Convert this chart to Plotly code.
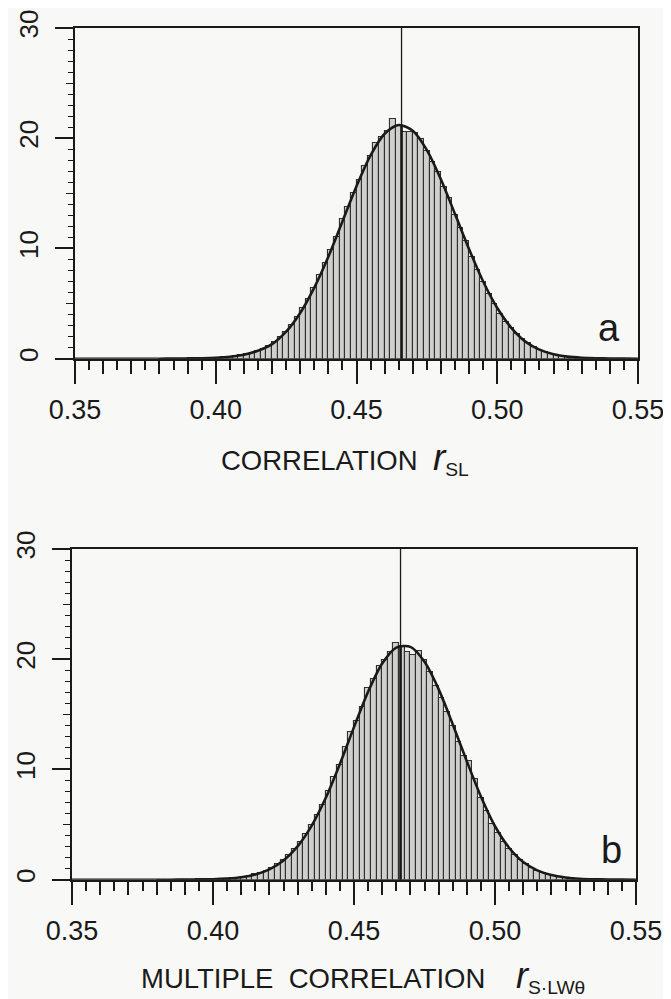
import plotly.graph_objects as go

# ---------------- data ----------------
BIN_START = 0.380
BIN_WIDTH = 0.002

# panel a: histogram heights (bins of width 0.002, first bin 0.380-0.382)
top_counts = [
    0.00, 0.00, 0.01, 0.01, 0.01, 0.02, 0.02, 0.03, 0.04, 0.06,
    0.08, 0.11, 0.16, 0.22, 0.30, 0.40, 0.53, 0.70, 0.92, 1.18,
    1.52, 1.95, 2.45, 3.05, 3.78, 4.58, 5.40, 6.45, 7.55, 8.70,
    9.85, 11.00, 12.70, 13.80, 15.05, 16.20, 17.45, 18.40, 19.60, 20.15,
    20.70, 21.75, 21.10, 20.60, 20.55, 20.45, 19.90, 18.85, 17.80, 16.90,
    15.60, 14.55, 13.05, 11.90, 10.70, 9.25, 8.05, 6.95, 5.85, 4.95,
    4.10, 3.35, 2.75, 2.20, 1.75, 1.38, 1.05, 0.80, 0.60, 0.44,
    0.32, 0.23, 0.16, 0.11, 0.08, 0.05, 0.04, 0.03, 0.02, 0.01,
    0.01, 0.00, 0.00, 0.00, 0.00,
]

# panel b: histogram heights
bottom_counts = [
    0.00, 0.00, 0.01, 0.01, 0.01, 0.01, 0.01, 0.02, 0.02, 0.03,
    0.05, 0.07, 0.10, 0.14, 0.19, 0.27, 0.36, 0.48, 0.64, 0.82,
    1.10, 1.45, 1.80, 2.25, 2.75, 3.40, 4.15, 5.00, 5.90, 6.75,
    8.05, 9.30, 10.40, 12.00, 13.40, 14.40, 15.70, 17.40, 18.20, 19.40,
    19.95, 20.70, 21.45, 21.20, 20.65, 20.35, 20.75, 19.90, 18.80, 17.60,
    16.50, 15.20, 13.90, 12.50, 11.20, 10.75, 9.10, 7.45, 6.25, 5.05,
    4.20, 3.45, 2.80, 2.20, 1.75, 1.40, 1.05, 0.80, 0.60, 0.45,
    0.33, 0.24, 0.17, 0.12, 0.08, 0.06, 0.04, 0.03, 0.02, 0.01,
    0.01, 0.00, 0.00, 0.00, 0.00,
]

# fitted curves, read at these correlation values
fit_x = [
    0.350, 0.355, 0.360, 0.365, 0.370, 0.375, 0.380, 0.385, 0.390, 0.395,
    0.400, 0.405, 0.410, 0.415, 0.420, 0.425, 0.430, 0.435, 0.440, 0.445,
    0.450, 0.455, 0.460, 0.465, 0.470, 0.475, 0.480, 0.485, 0.490, 0.495,
    0.500, 0.505, 0.510, 0.515, 0.520, 0.525, 0.530, 0.535, 0.540, 0.545,
    0.550,
]
top_fit = [
    0, 0, 0, 0, 0, 0, 0, 0.01, 0.02, 0.04,
    0.08, 0.17, 0.36, 0.72, 1.32, 2.45, 4.15, 6.45, 9.25, 12.45,
    15.65, 18.45, 20.41, 21.20, 20.67, 18.92, 16.26, 13.12, 9.94, 7.00,
    4.60, 2.80, 1.55, 0.82, 0.40, 0.19, 0.09, 0.04, 0.02, 0.01,
    0,
]
bottom_fit = [
    0, 0, 0, 0, 0, 0, 0, 0, 0.01, 0.015,
    0.04, 0.10, 0.22, 0.47, 0.94, 1.75, 3.03, 4.91, 7.43, 10.50,
    13.84, 17.05, 19.61, 21.06, 21.12, 19.77, 17.29, 14.11, 10.75, 7.55,
    4.85, 2.90, 1.60, 0.85, 0.42, 0.20, 0.09, 0.04, 0.02, 0.01,
    0,
]

top_mean = 0.4660
bottom_mean = 0.4665

x_tick_vals = [0.35, 0.40, 0.45, 0.50, 0.55]
x_tick_text = ["0.35", "0.40", "0.45", "0.50", "0.55"]
y_tick_vals = [0, 10, 20, 30]
y_tick_text = ["0", "10", "20", "30"]

panel_letters = ["a", "b"]
title_top = "CORRELATION&nbsp;&nbsp;<span style='font-size:37px'><i>r</i></span><sub>SL</sub>"
title_bottom = ("MULTIPLE&nbsp;&nbsp;CORRELATION&nbsp;&nbsp;&nbsp;&nbsp;"
                "<span style='font-size:36px'><i>r</i></span><sub>S·LWθ</sub>")

# ---------------- layout constants ----------------
W, H = 671, 999
FONT = "Liberation Sans, Arial, Helvetica, sans-serif"
INK = "#1a1a1a"
BG = "#f8f8f6"

def fx(p):
    return p / W

def fy(p):
    return 1 - p / H

centers = [BIN_START + BIN_WIDTH * (i + 0.5) for i in range(len(top_counts))]
mid_ticks = [round(0.35 + 0.01 * i, 2) for i in range(21) if i % 5 != 0]

fig = go.Figure()

def add_panel(counts, fit, xa, ya, xo, yo):
    fig.add_trace(go.Bar(
        x=centers, y=counts, width=BIN_WIDTH, xaxis=xa, yaxis=ya,
        marker=dict(color="#cfcfcd", line=dict(color="#303030", width=1.1)),
        showlegend=False, hoverinfo="skip"))
    fig.add_trace(go.Scatter(
        x=fit_x, y=fit, xaxis=xa, yaxis=ya, mode="lines",
        line=dict(color=INK, width=2.6, shape="spline", smoothing=0.8),
        showlegend=False, hoverinfo="skip"))
    # invisible trace so that the tick-only overlay axes are drawn
    fig.add_trace(go.Scatter(
        x=[0.45], y=[-5], xaxis=xo, yaxis=yo, mode="markers",
        marker=dict(opacity=0), showlegend=False, hoverinfo="skip"))

add_panel(top_counts, top_fit, "x", "y", "x3", "y3")
add_panel(bottom_counts, bottom_fit, "x2", "y2", "x4", "y4")

def main_x(domain, anchor):
    return dict(
        domain=domain, anchor=anchor, range=[0.35, 0.55],
        tickmode="array", tickvals=x_tick_vals, ticktext=x_tick_text,
        ticks="outside", ticklen=23, tickwidth=1.7, tickcolor=INK,
        showline=True, linecolor=INK, linewidth=1.9, mirror=True,
        showgrid=False, zeroline=False, automargin=False, fixedrange=True,
        tickfont=dict(size=27, color=INK, family=FONT),
        ticklabelstandoff=3,
        minor=dict(tick0=0.35, dtick=0.005, ticks="outside", ticklen=9,
                   tickwidth=1.5, tickcolor=INK, showgrid=False))

def over_x(over, anchor):
    return dict(
        overlaying=over, anchor=anchor, range=[0.35, 0.55],
        tickmode="array", tickvals=mid_ticks, ticktext=[""] * len(mid_ticks),
        ticks="outside", ticklen=14, tickwidth=1.5, tickcolor=INK,
        showticklabels=True, showline=False,
        showgrid=False, zeroline=False, fixedrange=True)

def main_y(domain, anchor):
    return dict(
        domain=domain, anchor=anchor, range=[0, 30],
        tickmode="array", tickvals=y_tick_vals, ticktext=y_tick_text,
        tickangle=-90, ticks="outside", ticklen=18, tickwidth=1.7,
        tickcolor=INK, showline=True, linecolor=INK, linewidth=1.9,
        mirror=True, showgrid=False, zeroline=False, automargin=False,
        fixedrange=True, tickfont=dict(size=26, color=INK, family=FONT),
        ticklabelstandoff=7,
        minor=dict(tick0=0, dtick=1, ticks="outside", ticklen=5,
                   tickwidth=1.4, tickcolor=INK, showgrid=False))

def over_y(over, anchor):
    return dict(
        overlaying=over, anchor=anchor, range=[0, 30],
        tickmode="array", tickvals=[5, 15, 25], ticktext=["", "", ""],
        ticks="outside", ticklen=8, tickwidth=1.4, tickcolor=INK,
        showticklabels=True, showline=False,
        showgrid=False, zeroline=False, fixedrange=True)

fig.update_layout(
    width=W, height=H,
    margin=dict(l=0, r=0, t=0, b=0),
    paper_bgcolor=BG, plot_bgcolor=BG,
    bargap=0, barmode="overlay",
    font=dict(family=FONT, color=INK),
    xaxis=main_x([fx(67), fx(630)], "y"),
    yaxis=main_y([fy(350.7), fy(20)], "x"),
    xaxis2=main_x([fx(64), fx(628)], "y2"),
    yaxis2=main_y([fy(871.7), fy(541)], "x2"),
    xaxis3=over_x("x", "y"),
    yaxis3=over_y("y", "x"),
    xaxis4=over_x("x2", "y2"),
    yaxis4=over_y("y2", "x2"),
)

# vertical lines at the observed value
for mean, fit, xr, yr in [(top_mean, top_fit, "x", "y"), (bottom_mean, bottom_fit, "x2", "y2")]:
    fig.add_shape(type="line", xref=xr, yref=yr, x0=mean, x1=mean, y0=0, y1=30,
                  line=dict(color=INK, width=1.3), layer="above")
    fig.add_shape(type="line", xref=xr, yref=yr, x0=mean, x1=mean, y0=0, y1=max(fit),
                  line=dict(color=INK, width=2.6), layer="above")

# panel letters
fig.add_annotation(text=panel_letters[0], xref="paper", yref="paper", x=fx(601), y=fy(320),
                   xanchor="center", yanchor="middle", showarrow=False,
                   font=dict(size=38, family=FONT, color=INK))
fig.add_annotation(text=panel_letters[1], xref="paper", yref="paper", x=fx(603), y=fy(842),
                   xanchor="center", yanchor="middle", showarrow=False,
                   font=dict(size=38, family=FONT, color=INK))

# axis titles
fig.add_annotation(text=title_top, xref="paper", yref="paper", x=fx(337), y=fy(451),
                   xanchor="center", yanchor="middle", showarrow=False,
                   font=dict(size=27.5, family=FONT, color=INK))
fig.add_annotation(text=title_bottom, xref="paper", yref="paper", x=fx(355), y=fy(968),
                   xanchor="center", yanchor="middle", showarrow=False,
                   font=dict(size=27.5, family=FONT, color=INK))

fig.write_html("out.html")
